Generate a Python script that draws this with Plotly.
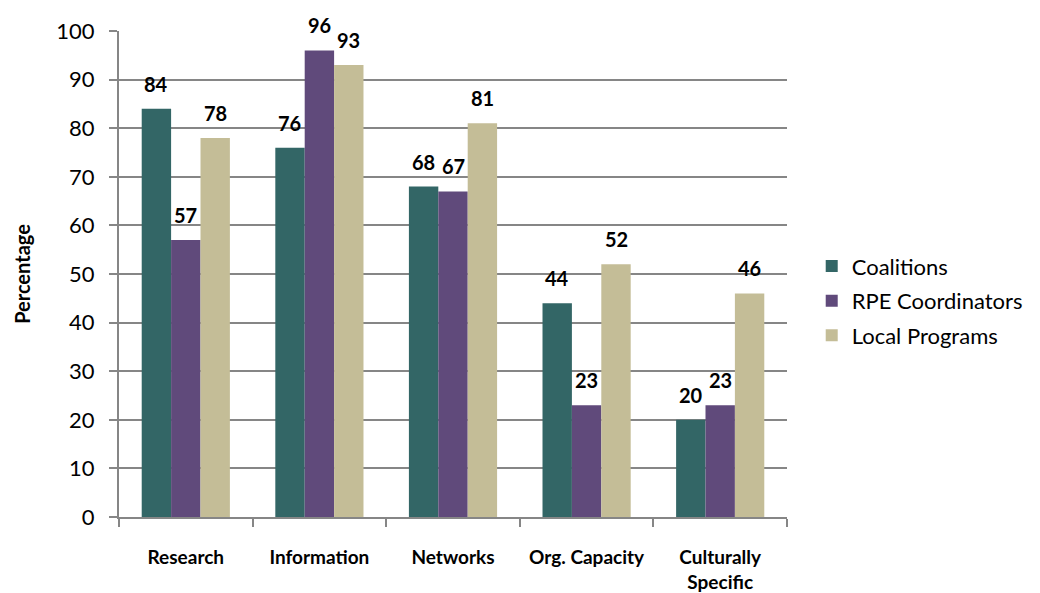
import plotly.graph_objects as go

categories = ["Research", "Information", "Networks", "Org. Capacity", "Culturally<br>Specific"]
coalitions = [84, 76, 68, 44, 20]
rpe_coordinators = [57, 96, 67, 23, 23]
local_programs = [78, 93, 81, 52, 46]

series = [
    ("Coalitions", coalitions, "#336666"),
    ("RPE Coordinators", rpe_coordinators, "#604A7B"),
    ("Local Programs", local_programs, "#C4BD97"),
]

FONT = "Lato"
GRID = "#868686"

fig = go.Figure()
for i, (name, vals, color) in enumerate(series):
    fig.add_trace(go.Bar(
        x=categories, y=vals, name=name,
        marker=dict(color=color, line=dict(width=0)),
        legendgroup=name,
    ))

# value labels above each bar, offset sideways to sit over its bar in the group
bar_px = 29.5
for i, (name, vals, color) in enumerate(series):
    for cat, v in zip(categories, vals):
        fig.add_annotation(
            x=cat, y=v, text=f"<b>{v}</b>", showarrow=False,
            xshift=(i - 1) * bar_px, yshift=25, yanchor="middle",
            font=dict(family=FONT, size=20, color="#000000"),
        )

fig.update_layout(
    width=1040, height=593,
    margin=dict(l=119, r=253, t=31, b=76, autoexpand=False),
    paper_bgcolor="white", plot_bgcolor="white",
    barmode="group", bargap=0.34, bargroupgap=0,
    font=dict(family=FONT, color="#000000"),
    showlegend=True,
    legend=dict(
        x=1.037, xanchor="left", y=0.445, yanchor="middle",
        font=dict(family=FONT, size=22, color="#000000"),
        tracegroupgap=3, traceorder="grouped",
    ),
)

fig.update_yaxes(
    range=[0, 100], dtick=10, tick0=0,
    showgrid=True, gridcolor=GRID, gridwidth=2,
    showline=True, linecolor=GRID, linewidth=2,
    ticks="outside", ticklen=8, tickwidth=2, tickcolor=GRID,
    tickfont=dict(family=FONT, size=22, color="#000000"),
    ticklabelstandoff=10, automargin=False,
    zeroline=False,
    title=dict(text="<b>Percentage</b>", font=dict(family=FONT, size=20, color="#000000"), standoff=20),
)
fig.update_xaxes(
    showline=True, linecolor=GRID, linewidth=2,
    ticks="outside", ticklen=8, tickwidth=2, tickcolor=GRID,
    tickson="boundaries", automargin=False,
    tickfont=dict(family=FONT, size=19, color="#000000"),
    ticklabelstandoff=22,
    tickprefix="<b>", ticksuffix="</b>",
)

fig.write_html("out.html")
